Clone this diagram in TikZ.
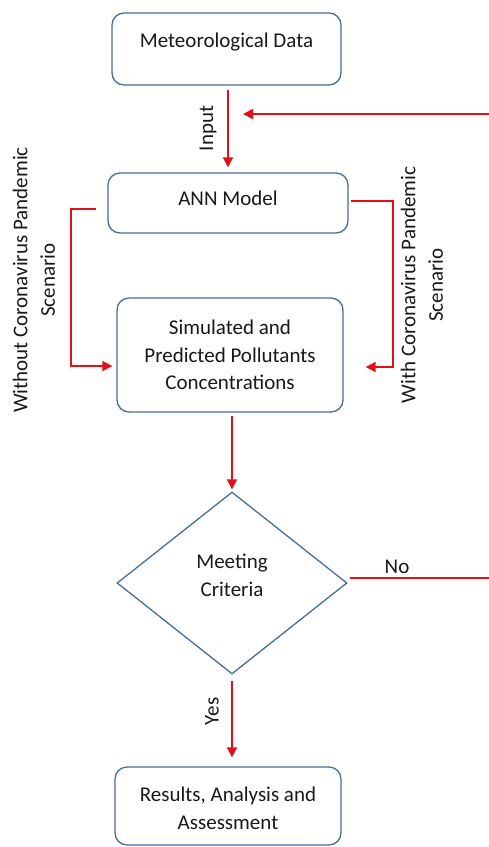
\documentclass[tikz,border=0pt]{standalone}
\usepackage{fontspec}
\setmainfont{Carlito}
\usetikzlibrary{arrows.meta,shapes.geometric}
\definecolor{boxblue}{RGB}{70,110,150}
\definecolor{linkred}{RGB}{226,16,24}
\tikzset{
  flowbox/.style={draw=boxblue, line width=1.3pt, rounded corners=12pt, fill=white},
  txt/.style={font=\fontsize{21}{27.5}\selectfont, align=center, inner sep=0pt, text=black!90},
  arr/.style={draw=linkred, line width=1.8pt, -{Triangle[length=10pt,width=10pt]}},
  link/.style={draw=linkred, line width=1.8pt},
}
\begin{document}
\begin{tikzpicture}[x=1pt,y=-1pt]
\useasboundingbox (0,0) rectangle (489,847);
% boxes
\node[flowbox, minimum width=229pt, minimum height=72pt] (met) at (226.5,49) {};
\node[txt] (metT) at (226.5,42) {Meteorological Data};
\node[flowbox, minimum width=240pt, minimum height=60pt] (ann) at (228,203) {};
\node[txt] (annT) at (228,198) {ANN Model};
\node[flowbox, minimum width=226pt, minimum height=114pt] (sim) at (230,355) {};
\node[txt] (simT) at (230,355) {Simulated and\\Predicted Pollutants\\Concentrations};
\node[diamond, draw=boxblue, line width=1.3pt, minimum width=230pt, minimum height=182pt, inner sep=0pt] (dia) at (232,583) {};
\node[txt] (diaT) at (232,575.5) {Meeting\\Criteria};
\node[flowbox, minimum width=226pt, minimum height=78pt] (res) at (228,806) {};
\node[txt] (resT) at (228,808.5) {Results, Analysis and\\Assessment};
% side labels
\node[txt, rotate=90] (lblL) at (34,280) {Without Coronavirus Pandemic\\Scenario};
\node[txt, rotate=90] (lblR) at (422,285) {With Coronavirus Pandemic\\Scenario};
% connectors
\draw[arr] ([xshift=1.5pt,yshift=-4pt]met.south) -- ([yshift=5pt]ann.north)
  node[txt, midway, rotate=90, xshift=0pt, yshift=20pt] (inputL) {Input};
\coordinate (fbR) at (489,114);
\coordinate (fbT) at (243,114);
\draw[arr] (fbR) -- (fbT);
\draw[arr] ([xshift=-11pt,yshift=-6pt]ann.west) -- ++(-25,0) |- ([xshift=-4pt,yshift=-11pt]sim.west);
\draw[arr] ([xshift=2pt,yshift=2pt]ann.east) -- ++(42,0) |- ([xshift=22pt,yshift=-12pt]sim.east);
\draw[arr] ([xshift=2pt,yshift=-3pt]sim.south) -- ([yshift=2pt]dia.north);
\coordinate (noR) at (489,578);
\draw[link] ([xshift=2pt,yshift=5pt]dia.east) -- (noR);
\node[txt] (noL) at (397,567) {No};
\draw[arr] ([yshift=-6pt]dia.south) -- ([yshift=9pt]dia.south |- res.north)
  node[txt, pos=0.4, rotate=90, yshift=20pt] (yesL) {Yes};
\end{tikzpicture}
\end{document}
